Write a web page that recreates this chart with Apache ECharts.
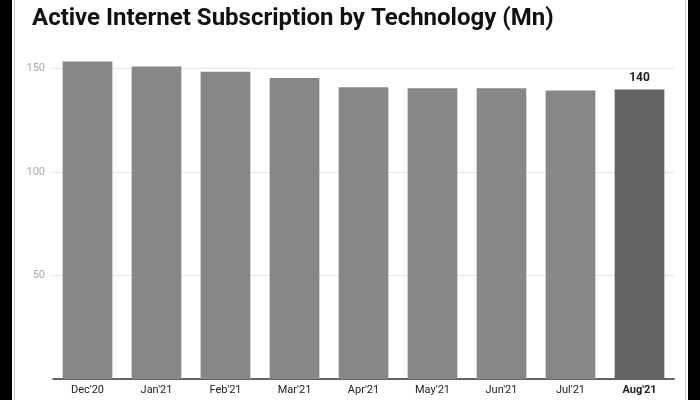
<!DOCTYPE html>
<html>
<head>
<meta charset="utf-8">
<script src="https://cdn.jsdelivr.net/npm/echarts@6/dist/echarts.min.js"></script>
<style>html,body{margin:0;padding:0;background:#fff}#c{width:700px;height:400px}</style>
</head>
<body>
<div id="c"></div>
<script>
const months = ["Dec'20", "Jan'21", "Feb'21", "Mar'21", "Apr'21", "May'21", "Jun'21", "Jul'21", "Aug'21"];
const subs = [153.5, 151, 148.5, 145.5, 141, 140.5, 140.5, 139.5, 140];
const yTicks = [0, 50, 100, 150];

let chart = echarts.init(document.getElementById('c'));
let last = months.length - 1;
chart.setOption({
    animation: false,
    title: {
        text: 'Active Internet Subscription by Technology (Mn)',
        left: 27, top: 2,
        textStyle: {fontFamily: 'Roboto', fontWeight: 'bold', fontSize: 24, color: '#111'}
    },
    graphic: [
        {type: 'rect', shape: {x: 0, y: 0, width: 12, height: 400}, style: {fill: '#000'}},
        {type: 'rect', shape: {x: 688, y: 0, width: 12, height: 400}, style: {fill: '#000'}},
        {type: 'line', shape: {x1: 14.5, y1: 0, x2: 14.5, y2: 400}, style: {stroke: '#ccc'}},
        {type: 'line', shape: {x1: 685.5, y1: 0, x2: 685.5, y2: 400}, style: {stroke: '#ccc'}}
    ],
    grid: {left: 53, right: 26, top: 48, bottom: 21},
    xAxis: {
        type: 'category',
        data: months,
        axisTick: {show: false},
        axisLine: {lineStyle: {color: '#333', width: 1.5}},
        axisLabel: {
            fontFamily: 'Roboto', fontSize: 11, color: '#222', margin: 6,
            formatter: (v) => v === months[last] ? '{b|' + v + '}' : v,
            rich: {b: {fontFamily: 'Roboto', fontSize: 11, fontWeight: 'bold', color: '#222'}}
        }
    },
    yAxis: {
        type: 'value',
        min: 0, max: 160, interval: 50,
        axisLabel: {
            fontFamily: 'Roboto', fontSize: 11, color: '#aaa', margin: 8,
            formatter: (v) => (yTicks.includes(v) && v !== 0) ? v : ''
        },
        splitLine: {lineStyle: {color: ['transparent', '#e4e4e4', '#e4e4e4', '#e4e4e4', 'transparent']}}
    },
    series: [{
        type: 'bar',
        barCategoryGap: '28%',
        data: subs.map((v, i) => ({
            value: v,
            itemStyle: {color: i === last ? '#636363' : '#878787'},
            label: {show: i === last}
        })),
        label: {
            position: 'top', fontFamily: 'Roboto', fontWeight: 'bold', fontSize: 12, color: '#222',
            formatter: (p) => Math.round(p.value)
        }
    }]
});
</script>
</body>
</html>
